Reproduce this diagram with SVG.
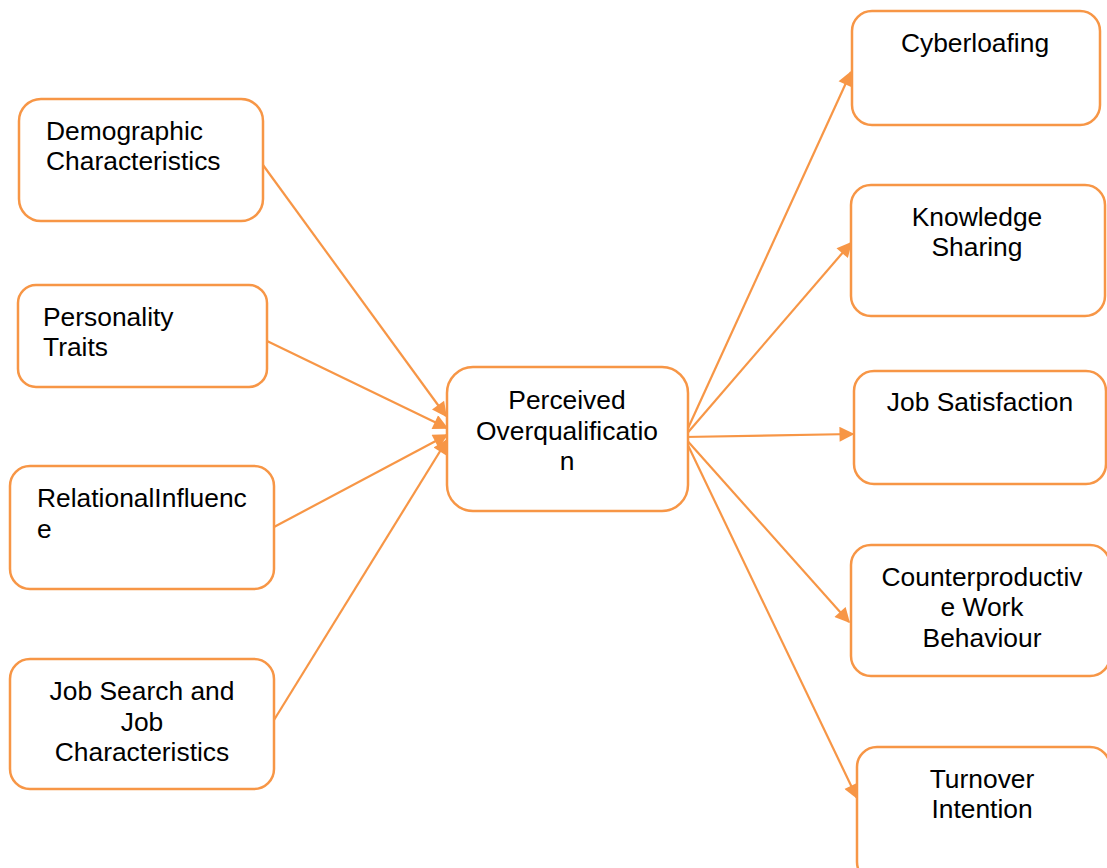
<svg xmlns="http://www.w3.org/2000/svg" width="1107" height="868" viewBox="0 0 1107 868">
  <style>
    .box { fill: #ffffff; stroke: #F79646; stroke-width: 2.5; }
    .lbl { font-family: "Liberation Sans", Arial, sans-serif; font-size: 26.4px; fill: #000000; }
    .mid { text-anchor: middle; }
    .edge { stroke: #F79646; stroke-width: 2.2; fill: none; marker-end: url(#arrow); }
  </style>
  <defs>
    <marker id="arrow" viewBox="0 0 10 10" refX="9" refY="5" markerUnits="userSpaceOnUse" markerWidth="17" markerHeight="15" orient="auto">
      <path d="M0,0 L10,5 L0,10 z" fill="#F79646"/>
    </marker>
  </defs>

  <rect width="1107" height="868" fill="#ffffff"/>

  <!-- connectors -->
  <g id="connectors">
    <line class="edge" x1="263" y1="165" x2="446" y2="416"/>
    <line class="edge" x1="267" y1="341" x2="447" y2="428"/>
    <line class="edge" x1="274" y1="527" x2="447" y2="435"/>
    <line class="edge" x1="274" y1="720" x2="447" y2="440"/>
    <line class="edge" x1="684" y1="437" x2="851" y2="72"/>
    <line class="edge" x1="684" y1="437" x2="851" y2="243"/>
    <line class="edge" x1="684" y1="437" x2="853" y2="434"/>
    <line class="edge" x1="684" y1="437" x2="849" y2="622"/>
    <line class="edge" x1="684" y1="437" x2="857" y2="798"/>
  </g>

  <!-- left column -->
  <g id="demographic">
    <rect class="box" x="19" y="99" width="244" height="122" rx="22"/>
    <text class="lbl" x="46" y="140">Demographic</text>
    <text class="lbl" x="46" y="170">Characteristics</text>
  </g>
  <g id="personality">
    <rect class="box" x="18" y="285" width="249" height="102" rx="18"/>
    <text class="lbl" x="43" y="326">Personality</text>
    <text class="lbl" x="43" y="356">Traits</text>
  </g>
  <g id="relational">
    <rect class="box" x="10" y="466" width="264" height="123" rx="20"/>
    <text class="lbl" x="37" y="507">RelationalInfluenc</text>
    <text class="lbl" x="37" y="538">e</text>
  </g>
  <g id="jobsearch">
    <rect class="box" x="10" y="659" width="264" height="130" rx="20"/>
    <text class="lbl mid" x="142" y="700">Job Search and</text>
    <text class="lbl mid" x="142" y="731">Job</text>
    <text class="lbl mid" x="142" y="761">Characteristics</text>
  </g>

  <!-- centre -->
  <g id="overqualification">
    <rect class="box" x="447" y="367" width="241" height="144" rx="26"/>
    <text class="lbl mid" x="567" y="409">Perceived</text>
    <text class="lbl mid" x="567" y="440">Overqualificatio</text>
    <text class="lbl mid" x="567" y="470">n</text>
  </g>

  <!-- right column -->
  <g id="cyberloafing">
    <rect class="box" x="852" y="11" width="248" height="114" rx="20"/>
    <text class="lbl mid" x="975" y="52">Cyberloafing</text>
  </g>
  <g id="knowledge">
    <rect class="box" x="851" y="185" width="254" height="131" rx="20"/>
    <text class="lbl mid" x="977" y="226">Knowledge</text>
    <text class="lbl mid" x="977" y="256">Sharing</text>
  </g>
  <g id="satisfaction">
    <rect class="box" x="854" y="371" width="252" height="113" rx="20"/>
    <text class="lbl mid" x="980" y="411">Job Satisfaction</text>
  </g>
  <g id="counterproductive">
    <rect class="box" x="851" y="545" width="259" height="131" rx="20"/>
    <text class="lbl mid" x="982" y="586">Counterproductiv</text>
    <text class="lbl mid" x="982" y="616">e Work</text>
    <text class="lbl mid" x="982" y="647">Behaviour</text>
  </g>
  <g id="turnover">
    <rect class="box" x="857" y="747" width="253" height="135" rx="20"/>
    <text class="lbl mid" x="982" y="788">Turnover</text>
    <text class="lbl mid" x="982" y="818">Intention</text>
  </g>
</svg>
